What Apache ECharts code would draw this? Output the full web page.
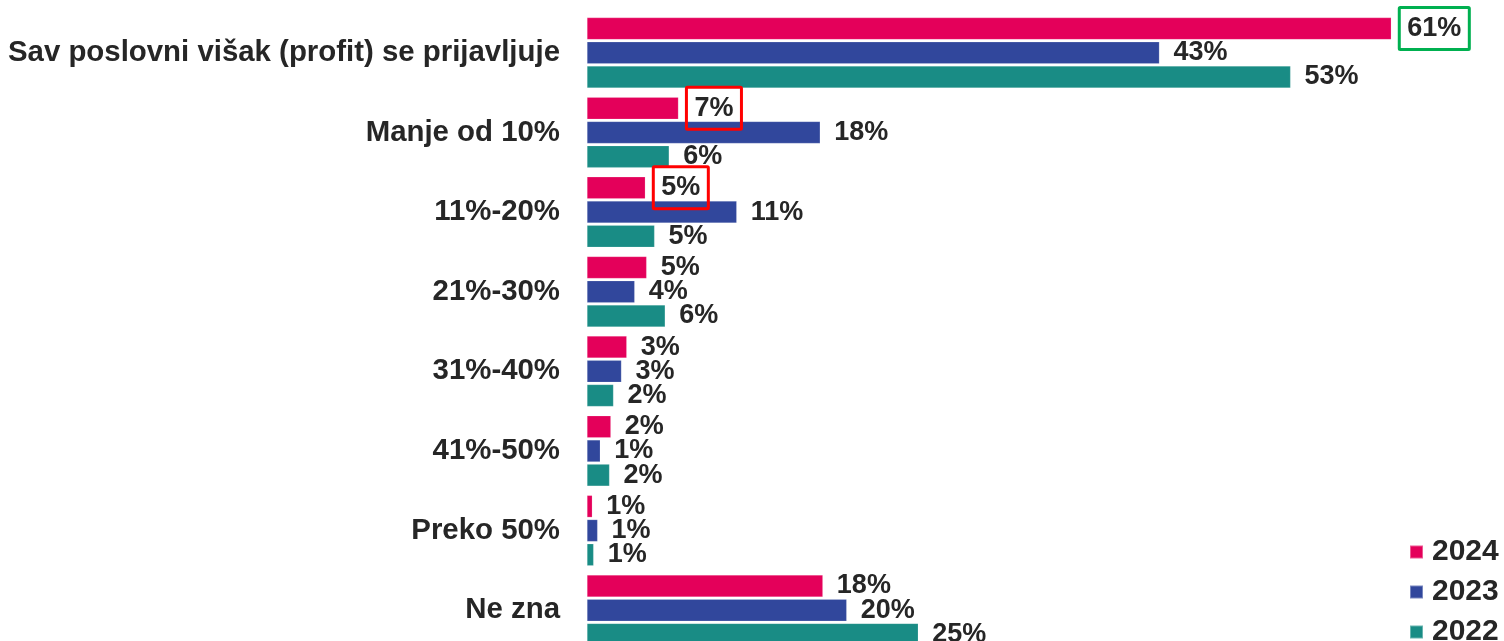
<!DOCTYPE html>
<html>
<head>
<meta charset="utf-8">
<script src="https://cdn.jsdelivr.net/npm/echarts@6/dist/echarts.min.js"></script>
<style>
html,body{margin:0;padding:0;background:#fff;overflow:hidden;}
#chart{width:1504px;height:664px;}
</style>
</head>
<body>
<div id="chart"></div>
<script>
const categories = ['Sav poslovni višak (profit) se prijavljuje','Manje od 10%','11%-20%','21%-30%','31%-40%','41%-50%','Preko 50%','Ne zna'];
const seriesNames = ['2024','2023','2022'];
const values2024 = [60.7, 6.9, 4.4, 4.5, 3.0, 1.8, 0.4, 17.8];
const values2023 = [43.2, 17.6, 11.3, 3.6, 2.6, 1.0, 0.8, 19.6];
const values2022 = [53.1, 6.2, 5.1, 5.9, 2.0, 1.7, 0.5, 25.0];
const labels2024 = ['61%','7%','5%','5%','3%','2%','1%','18%'];
const labels2023 = ['43%','18%','11%','4%','3%','1%','1%','20%'];
const labels2022 = ['53%','6%','5%','6%','2%','2%','1%','25%'];
const colors = ['#E4005A','#31479C','#198C85'];
// highlighted labels: [seriesIndex, dataIndex, borderColor]
const highlights = [[0,0,'#00B050'],[0,1,'#FF0000'],[0,2,'#FF0000']];

const chart = echarts.init(document.getElementById('chart'), null, {renderer:'canvas'});
const allValues = [values2024, values2023, values2022];
const allLabels = [labels2024, labels2023, labels2022];
const FONT = '"Liberation Sans", Arial, sans-serif';

const series = seriesNames.map((name, si) => ({
  name: name,
  type: 'bar',
  barWidth: 22,
  barGap: '10%',
  itemStyle: {color: colors[si], borderColor: 'rgba(255,255,255,0.35)', borderWidth: 0.5},
  label: {
    show: true,
    position: 'right',
    distance: 14,
    color: '#262626',
    fontFamily: FONT,
    fontWeight: 'bold',
    fontSize: 27,
    padding: [5, 0, 0, 0],
    formatter: p => allLabels[si][p.dataIndex]
  },
  data: allValues[si].map((v, di) => {
    const h = highlights.find(h => h[0] === si && h[1] === di);
    if (!h) return v;
    return {
      value: v,
      label: {
        distance: 8,
        borderColor: h[2],
        borderWidth: 3,
        borderRadius: 1,
        padding: [9, 8, 6, 8]
      }
    };
  })
}));

chart.setOption({
  animation: false,
  backgroundColor: '#ffffff',
  color: colors,
  legend: {
    orient: 'vertical',
    left: 1409,
    top: 537,
    padding: 0,
    itemWidth: 13,
    itemHeight: 13,
    itemGap: 10,
    icon: 'rect',
    data: seriesNames,
    textStyle: {
      color: '#262626',
      fontFamily: FONT,
      fontWeight: 'bold',
      fontSize: 30,
      padding: [0, 0, 0, 4]
    }
  },
  grid: {left: 587, right: 16, top: 13, height: 637, containLabel: false},
  xAxis: {
    type: 'value',
    min: 0,
    max: 68,
    show: false
  },
  yAxis: {
    type: 'category',
    inverse: true,
    data: categories,
    axisLine: {show: false},
    axisTick: {show: false},
    axisLabel: {
      margin: 27,
      color: '#262626',
      fontFamily: FONT,
      fontWeight: 'bold',
      fontSize: 29.4,
      padding: [6, 0, 0, 0]
    }
  },
  series: series
});
</script>
</body>
</html>
